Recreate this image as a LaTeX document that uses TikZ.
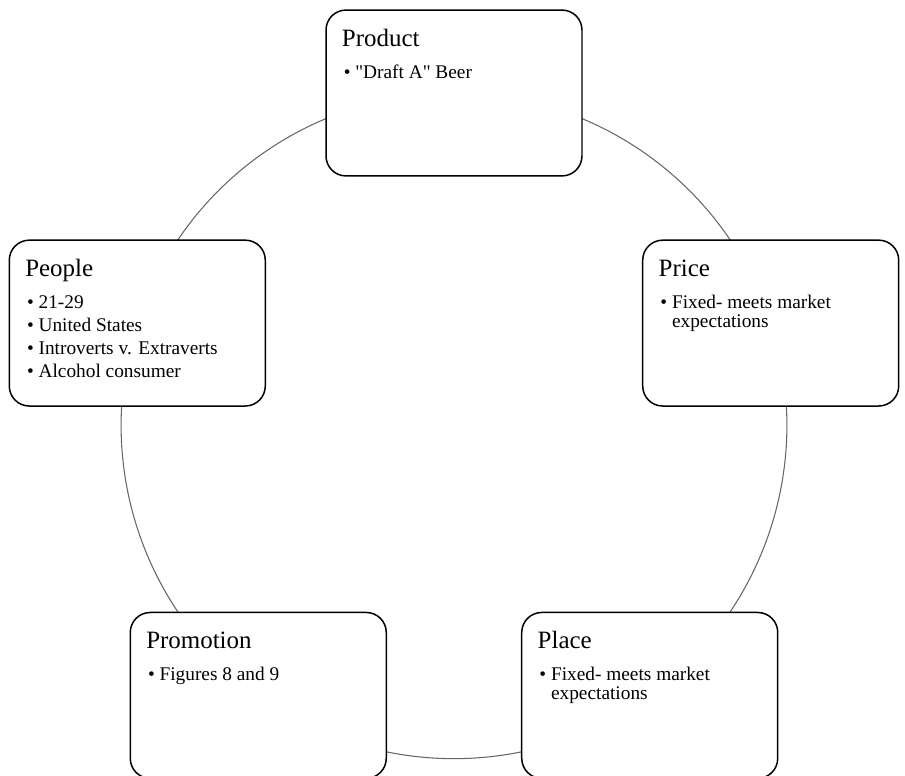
\documentclass[tikz,border=0pt]{standalone}
\usepackage{fontspec}
\setmainfont{Liberation Serif}[Ligatures=TeXOff]
\usetikzlibrary{backgrounds}

\newcommand{\boxhead}[1]{\noindent\rule{0pt}{20.5pt}{\fontsize{14.2}{14.2}\selectfont #1}\par\vspace{5.4pt}}
\newcommand{\bitem}[1]{\par\hangindent=7.6pt\hangafter=1\noindent\makebox[7.6pt][l]{\hspace{1pt}•}#1}
\newcommand{\cardtext}[2]{\begin{minipage}[c][94.4pt][t]{127.5pt}\raggedright\hyphenpenalty=10000 \lineskiplimit=-\maxdimen\parskip=2.3pt
\boxhead{#1}\fontsize{11}{10.8}\selectfont #2\end{minipage}}

\begin{document}
\begin{tikzpicture}[x=0.02cm, y=0.02cm,
    box/.style={draw, rounded corners=0.4cm, line width=0.85pt, fill=white, inner xsep=9.1pt, inner ysep=0pt},
    link/.style={draw=black!60, line width=0.6pt}]
            \useasboundingbox (-454,-350) rectangle (451,426);

            \node[box] (product) at (90:333) {\cardtext{Product}{\bitem{"Draft A" Beer}}};
            \node[box] (price) at (18:333) {\cardtext{Price}{\bitem{Fixed- meets market expectations}}};
            \node[box] (place) at (-54:333) {\cardtext{Place}{\bitem{Fixed- meets market expectations}}};
            \node[box] (promotion) at (234:333) {\cardtext{Promotion}{\bitem{Figures 8 and 9}}};
            \node[box] (people) at (162:333) {\cardtext{People}{\bitem{21-29}\bitem{United States}\bitem{Introverts v. Extraverts}\bitem{Alcohol consumer}}};

            \begin{scope}[on background layer]
            \draw[link] (product.center) to[bend right=36, looseness=0.94] (people.center);
            \draw[link] (people.center) to[bend right=36, looseness=0.94] (promotion.center);
            \draw[link] (promotion.center) to[bend right=36, looseness=0.94] (place.center);
            \draw[link] (place.center) to[bend right=36, looseness=0.94] (price.center);
            \draw[link] (price.center) to[bend right=36, looseness=0.94] (product.center);
            \end{scope}
        \end{tikzpicture}
\end{document}
